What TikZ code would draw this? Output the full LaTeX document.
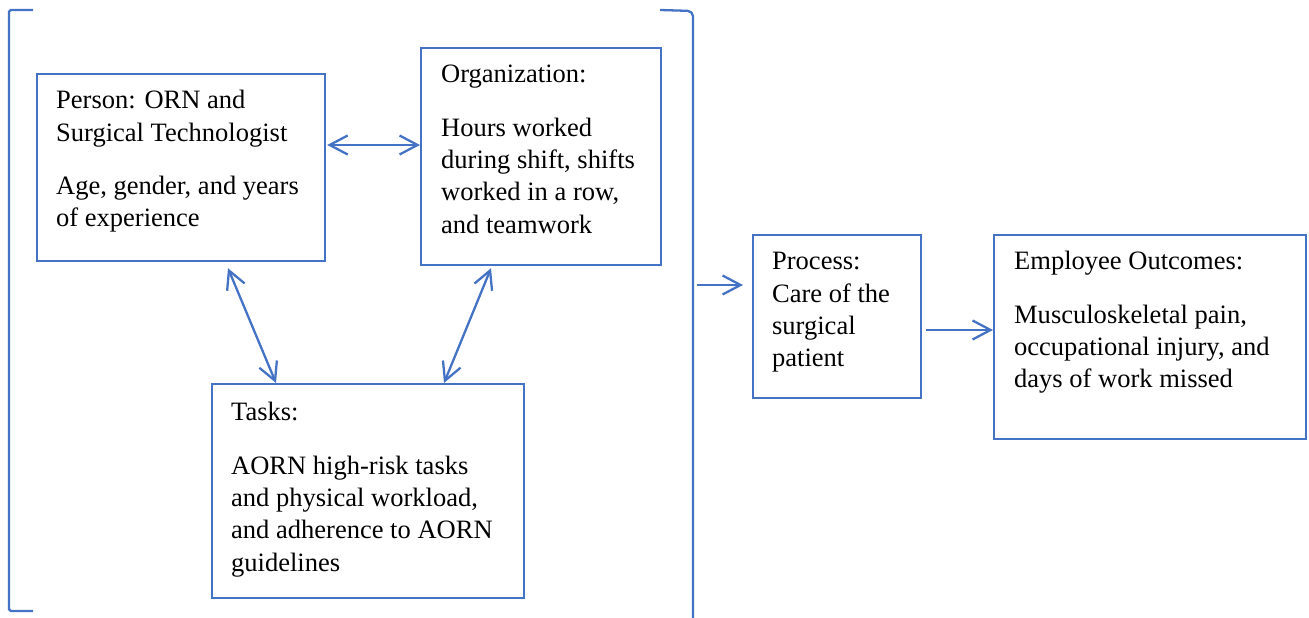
\documentclass[tikz,border=0pt]{standalone}
\usepackage{fontspec}
\setmainfont{Liberation Serif}
\usetikzlibrary{calc,arrows.meta}
\definecolor{frameblue}{HTML}{4472C4}

\begin{document}
\begin{tikzpicture}[x=0.02cm,y=-0.02cm,line width=1.3pt,
  box/.style={draw=frameblue,anchor=north west,inner sep=0pt},
  words/.style={anchor=north west,align=left,inner sep=0pt,font=\fontsize{15.1}{18.4}\selectfont},
  link/.style={frameblue,{Straight Barb[length=3.6mm,width=3.8mm]}-{Straight Barb[length=3.6mm,width=3.8mm]}},
  push/.style={frameblue,-{Straight Barb[length=3.6mm,width=3.8mm]}}]
  \useasboundingbox (0,0) rectangle (1309,618);

  % bracket round the work system
  \draw[frameblue,rounded corners=1pt] (33,10) -- (9,10) -- (9,611) -- (33,611);
  \draw[frameblue,rounded corners=3pt] (660,10) -- (693,11) -- (693,620);
  \coordinate (sysout) at (697,285);

  \node[box,minimum width=5.76cm,minimum height=3.74cm] (person) at (36,73) {};
  \node[box,minimum width=4.8cm,minimum height=4.34cm] (org) at (420,47) {};
  \node[box,minimum width=6.24cm,minimum height=4.28cm] (tasks) at (211,383) {};
  \node[box,minimum width=3.36cm,minimum height=3.26cm] (process) at (752,234) {};
  \node[box,minimum width=6.24cm,minimum height=4.08cm] (outcome) at (993,234) {};

  \node[words] (persontxt) at ($(person.north west)+(19,12)$)
    {\strut Person: ORN and\\Surgical Technologist\\[12pt]Age, gender, and years\\of experience};
  \node[words] (orgtxt) at ($(org.north west)+(20,12)$)
    {\strut Organization:\\[12pt]Hours worked\\during shift, shifts\\worked in a row,\\and teamwork};
  \node[words] (taskstxt) at ($(tasks.north west)+(19,14)$)
    {\strut Tasks:\\[12pt]AORN high-risk tasks\\and physical workload,\\and adherence to AORN\\guidelines};
  \node[words] (processtxt) at ($(process.north west)+(19,12)$)
    {\strut Process:\\Care of the\\surgical\\patient};
  \node[words] (outcometxt) at ($(outcome.north west)+(20,12)$)
    {\strut Employee Outcomes:\\[12pt]Musculoskeletal pain,\\occupational injury, and\\days of work missed};

  \coordinate (pa) at ($(person.north east)+(1,72)$);
  \draw[link] (pa) -- (pa -| org.west);
  \draw[link] ($(person.south west)+(192,6)$) -- ($(tasks.north west)+(65,0)$);
  \draw[link] ($(org.south west)+(71,2)$) -- ($(tasks.north west)+(233,0)$);
  \draw[push,shorten >=0.18cm] (sysout) -- (sysout -| process.west);
  \coordinate (pb) at ($(process.north east)+(4,96)$);
  \draw[push] (pb) -- (pb -| outcome.west);
\end{tikzpicture}
\end{document}
